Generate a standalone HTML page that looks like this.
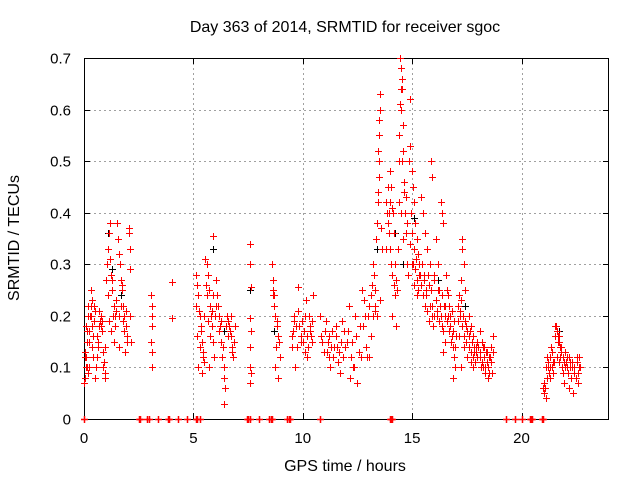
<!DOCTYPE html>
<html><head><meta charset="utf-8"><style>
body{margin:0;background:#fff;}
svg{display:block;font-family:"Liberation Sans",sans-serif;}
</style></head><body>
<svg id="chart" width="640" height="480">
<text x="345" y="32" font-size="16" text-anchor="middle">Day 363 of 2014, SRMTID for receiver sgoc</text>
<text x="345" y="471" font-size="16" text-anchor="middle">GPS time / hours</text>
<text transform="translate(19,238) rotate(-90)" font-size="16" text-anchor="middle">SRMTID / TECUs</text>
<g id="grid"></g>
<g id="ticks"></g>
<rect x="84.5" y="58.5" width="524" height="361" fill="none" stroke="#000" stroke-width="1"/>
<g id="black"></g>
<g id="red"></g>
</svg>
<script>
const xTicks=[0,5,10,15,20];
const yTicks=[0,0.1,0.2,0.3,0.4,0.5,0.6,0.7];
const yTickLabels=["0","0.1","0.2","0.3","0.4","0.5","0.6","0.7"];
const redT=[0.02,0.05,0.08,0.1,0.12,0.15,0.17,0.19,0.06,0.13,
0.22,0.25,0.28,0.3,0.33,0.36,0.4,0.43,0.46,0.48,0.35,
0.52,0.55,0.6,0.63,0.66,0.7,0.73,0.76,0.8,0.84,0.88,0.92,0.95,0.98,
1.02,1.05,1.1,1.15,1.2,1.25,1.3,1.35,1.4,1.45,1.12,1.22,1.38,
1.52,1.55,1.6,1.65,1.7,1.75,1.8,1.85,1.9,1.95,1.62,1.88,
2.05,2.07,2.08,2.1,2.12,2.15,
3.08,3.1,3.1,3.12,3.08,3.1,3.12,
4.0,4.0,
5.1,5.15,5.2,5.25,5.3,5.35,5.4,5.45,5.5,5.22,5.38,
5.55,5.6,5.65,5.7,5.75,5.8,5.85,5.9,5.95,5.72,5.9,
6.02,6.08,6.12,6.18,6.22,6.28,6.32,6.38,6.42,6.46,6.4,
6.55,6.6,6.65,6.7,6.75,6.8,6.85,
7.58,7.6,7.62,7.6,7.62,7.58,7.6,7.62,7.6,
8.6,8.62,8.65,8.7,8.75,8.8,8.85,8.9,8.95,8.72,8.88,
9.5,9.55,9.6,9.7,9.8,9.9,10.0,10.1,10.2,10.3,10.4,10.45,9.65,10.15,10.35,
10.8,10.9,11.0,11.1,11.2,11.3,11.4,11.5,11.6,11.7,11.8,11.9,11.25,11.55,
12.0,12.1,12.2,12.3,12.4,12.5,12.6,12.7,12.8,12.9,12.15,12.45,12.65,12.85,
13.0,13.05,13.1,13.15,13.2,13.25,13.3,13.35,13.4,13.42,13.45,13.48,13.5,13.45,13.5,13.48,13.52,13.55,
13.8,13.85,13.9,13.95,14.0,14.05,14.1,14.15,14.2,14.1,14.25,13.9,14.0,
14.45,14.5,14.55,14.5,14.45,14.6,14.4,14.55,14.65,14.7,14.5,14.75,14.6,14.35,
14.9,14.92,14.85,15.0,15.05,15.1,14.95,15.15,15.2,15.25,15.0,15.3,15.1,15.2,
15.85,15.9,15.4,15.5,15.6,15.7,15.45,15.55,15.75,15.65,15.8,15.9,15.95,
16.3,16.35,16.4,16.1,16.2,16.0,16.25,16.45,16.15,16.35,16.5,16.4,
16.55,16.6,16.7,16.65,16.75,16.8,16.85,16.9,16.95,16.85,
17.3,17.3,17.35,17.25,17.4,17.1,17.2,17.45,17.15,17.35,17.5,17.25,
17.6,17.7,17.65,17.8,17.75,17.9,17.85,17.95,17.7,17.8,
18.1,18.2,18.3,18.4,18.5,18.6,18.25,18.35,18.45,18.7,18.55,18.15,18.65,
21.0,21.05,21.1,21.15,21.2,21.3,21.35,21.4,21.45,21.25,
21.55,21.6,21.65,21.7,21.75,21.8,21.6,21.7,21.85,21.9,21.95,
22.0,22.1,22.2,22.3,22.4,22.5,22.6,22.15,22.35,22.55,22.65];
const redV=[0.07,0.08,0.1,0.12,0.15,0.17,0.2,0.22,0.13,0.1,
0.1,0.15,0.2,0.22,0.25,0.18,0.12,0.16,0.19,0.21,0.23,
0.08,0.1,0.12,0.14,0.15,0.18,0.19,0.2,0.19,0.17,0.13,0.11,0.09,0.08,
0.27,0.3,0.33,0.36,0.38,0.28,0.25,0.22,0.2,0.21,0.19,0.17,0.15,
0.38,0.35,0.32,0.3,0.27,0.25,0.22,0.2,0.18,0.16,0.14,0.13,
0.37,0.36,0.33,0.29,0.2,0.15,
0.24,0.22,0.2,0.18,0.15,0.13,0.1,
0.265,0.195,
0.28,0.26,0.24,0.21,0.2,0.17,0.15,0.13,0.11,0.1,0.09,
0.31,0.3,0.28,0.25,0.22,0.2,0.18,0.15,0.12,0.1,0.355,
0.27,0.24,0.22,0.2,0.18,0.15,0.12,0.1,0.08,0.06,0.03,
0.2,0.19,0.18,0.16,0.14,0.12,0.15,
0.34,0.3,0.255,0.195,0.17,0.14,0.1,0.09,0.07,
0.3,0.27,0.25,0.24,0.2,0.19,0.16,0.15,0.12,0.1,0.08,
0.14,0.17,0.2,0.18,0.255,0.16,0.15,0.13,0.12,0.2,0.19,0.24,0.1,0.23,0.17,
0.2,0.15,0.17,0.13,0.16,0.14,0.12,0.18,0.11,0.09,0.19,0.17,0.1,0.14,
0.15,0.22,0.12,0.1,0.2,0.07,0.18,0.25,0.23,0.14,0.08,0.16,0.12,0.2,
0.2,0.22,0.24,0.26,0.3,0.28,0.21,0.35,0.38,0.42,0.44,0.47,0.5,0.52,0.55,0.58,0.6,0.63,
0.42,0.4,0.38,0.36,0.33,0.3,0.28,0.26,0.24,0.2,0.18,0.45,0.48,
0.7,0.68,0.66,0.64,0.61,0.57,0.55,0.5,0.46,0.43,0.4,0.38,0.35,0.33,
0.62,0.53,0.5,0.48,0.45,0.42,0.4,0.38,0.35,0.32,0.3,0.28,0.26,0.24,
0.5,0.47,0.43,0.4,0.36,0.33,0.3,0.28,0.26,0.24,0.22,0.2,0.18,
0.42,0.4,0.38,0.35,0.3,0.28,0.25,0.22,0.2,0.18,0.15,0.13,
0.28,0.25,0.22,0.2,0.18,0.16,0.14,0.12,0.1,0.08,
0.35,0.33,0.3,0.27,0.25,0.22,0.2,0.18,0.16,0.14,0.12,0.1,
0.2,0.18,0.17,0.16,0.15,0.14,0.13,0.12,0.11,0.1,
0.17,0.15,0.14,0.13,0.12,0.11,0.1,0.09,0.08,0.16,0.12,0.1,0.09,
0.06,0.05,0.04,0.08,0.1,0.12,0.14,0.13,0.11,0.09,
0.18,0.17,0.16,0.15,0.14,0.13,0.12,0.11,0.1,0.09,0.07,
0.13,0.12,0.11,0.1,0.09,0.08,0.07,0.06,0.05,0.12,0.1];
const moreT=[0.04,0.11,0.18,0.24,0.31,0.38,0.45,0.58,0.68,0.78,0.86,0.94,1.08,1.18,1.28,1.33,1.42,1.48,1.58,1.68,1.72,1.78,1.83,1.92,1.98,
5.12,5.18,5.28,5.33,5.42,5.48,5.58,5.62,5.68,5.78,5.83,5.88,5.98,6.05,6.15,6.25,6.35,6.48,6.58,6.68,6.72,6.78,6.88,
8.62,8.68,8.78,8.82,9.52,9.58,9.62,9.72,9.78,9.85,9.92,9.95,10.05,10.12,10.18,10.25,10.32,10.38,10.42,
10.85,10.95,11.05,11.15,11.22,11.35,11.45,11.52,11.65,11.75,11.85,11.95,12.05,12.25,12.35,12.55,12.75,12.95,
13.05,13.12,13.22,13.28,13.32,13.38,13.52,13.58,13.62,
13.82,13.88,13.92,13.98,14.02,14.08,14.12,14.18,14.22,14.28,14.32,14.38,14.42,14.48,14.52,14.58,14.62,14.68,14.72,14.78,14.82,14.88,14.98,15.02,15.08,15.12,15.18,15.22,15.28,
15.32,15.38,15.42,15.48,15.52,15.58,15.62,15.68,15.72,15.78,15.82,15.88,15.92,15.98,16.02,16.08,16.12,16.18,16.22,16.28,16.32,16.38,16.42,16.48,
16.52,16.58,16.62,16.68,16.72,16.78,16.82,16.88,16.92,16.98,17.02,17.08,17.12,17.18,17.22,17.28,17.32,17.38,17.42,17.48,17.52,17.58,17.62,17.68,17.72,17.78,17.82,17.88,17.92,17.98,
18.02,18.08,18.12,18.18,18.22,18.28,18.32,18.38,18.42,18.48,18.52,18.58,18.62,18.68,
21.02,21.08,21.12,21.18,21.22,21.28,21.32,21.38,21.42,21.48,21.52,21.58,21.62,21.68,21.72,21.78,21.82,21.88,21.92,21.98,
22.02,22.08,22.12,22.18,22.22,22.28,22.32,22.38,22.42,22.48,22.52,22.58,22.62,22.68];
const moreV=[0.12,0.18,0.09,0.17,0.2,0.14,0.22,0.16,0.21,0.18,0.1,0.14,0.24,0.31,0.27,0.2,0.18,0.23,0.2,0.22,0.26,0.19,0.17,0.21,0.15,
0.22,0.16,0.14,0.18,0.12,0.2,0.26,0.24,0.19,0.16,0.21,0.24,0.2,0.22,0.17,0.19,0.14,0.18,0.16,0.17,0.2,0.13,0.18,
0.24,0.22,0.14,0.18,0.16,0.19,0.2,0.14,0.21,0.18,0.15,0.19,0.17,0.2,0.16,0.14,0.18,0.16,0.15,
0.16,0.13,0.19,0.15,0.12,0.17,0.14,0.16,0.13,0.15,0.12,0.14,0.17,0.15,0.1,0.13,0.18,0.12,
0.12,0.16,0.2,0.22,0.25,0.2,0.23,0.37,0.33,
0.33,0.38,0.4,0.42,0.45,0.41,0.4,0.36,0.3,0.27,0.25,0.42,0.5,0.6,0.64,0.52,0.44,0.4,0.36,0.3,0.28,0.34,0.36,0.3,0.33,0.29,0.31,0.27,0.25,
0.3,0.28,0.26,0.24,0.27,0.22,0.25,0.21,0.28,0.19,0.3,0.25,0.22,0.2,0.27,0.23,0.21,0.25,0.19,0.22,0.2,0.24,0.17,0.2,
0.22,0.19,0.24,0.17,0.2,0.15,0.21,0.17,0.19,0.14,0.16,0.19,0.24,0.21,0.23,0.18,0.2,0.16,0.19,0.15,0.17,0.14,0.16,0.13,0.15,0.12,0.14,0.11,0.13,0.15,
0.14,0.12,0.13,0.11,0.14,0.12,0.1,0.13,0.11,0.1,0.09,0.12,0.14,0.13,
0.07,0.06,0.1,0.12,0.11,0.1,0.08,0.1,0.09,0.11,0.16,0.18,0.17,0.15,0.16,0.12,0.14,0.12,0.11,0.1,
0.11,0.1,0.09,0.12,0.1,0.08,0.11,0.09,0.1,0.08,0.11,0.09,0.12,0.1];
const zeroT=[0,2.5,2.55,2.9,2.95,3.4,3.85,3.9,4.3,4.7,5.1,5.15,5.3,7.45,7.5,7.6,8.0,8.45,8.55,8.6,9.3,9.35,9.4,10.8,14.0,14.05,14.1,19.3,19.7,20.0,20.4,20.45,20.5,20.95,21.0];
const blackT=[1.1,1.3,1.7,5.9,6.4,7.6,8.7,10.2,12.3,13.4,14.2,14.6,15.1,16.2,17.4,21.7];
const blackV=[0.36,0.29,0.24,0.33,0.17,0.25,0.17,0.16,0.1,0.33,0.36,0.3,0.39,0.27,0.22,0.17];

const NS="http://www.w3.org/2000/svg";
const X0=84,X1=609,Y0=419,Y1=58,XMAX=24,YMAX=0.7;
function sx(t){return X0+(X1-X0)*t/XMAX;}
function sy(v){return Y0-(Y0-Y1)*v/YMAX;}
function mk(tag,attrs,parent){const e=document.createElementNS(NS,tag);for(const k in attrs)e.setAttribute(k,attrs[k]);parent.appendChild(e);return e;}
const grid=document.getElementById('grid'),ticks=document.getElementById('ticks');
xTicks.forEach(t=>{
  const x=Math.round(sx(t))+0.5;
  if(t>0){const g=mk('line',{x1:x,x2:x,y1:Y1,y2:Y0,stroke:'#a0a0a0','stroke-dasharray':'2,3'},grid);
  
  }
  mk('line',{x1:x,x2:x,y1:Y0,y2:Y0-6,stroke:'#000'},ticks);
  mk('line',{x1:x,x2:x,y1:Y1,y2:Y1+6,stroke:'#000'},ticks);
  const l=mk('text',{x:sx(t),y:Y0+24,'font-size':15,'text-anchor':'middle'},ticks);
  l.textContent=String(t);
  
  
});
yTicks.forEach((v,i)=>{
  const y=Math.round(sy(v))+0.5;
  if(v>0&&v<YMAX){const g=mk('line',{x1:X0,x2:X1,y1:y,y2:y,stroke:'#a0a0a0','stroke-dasharray':'2,3'},grid);
  
  }
  mk('line',{x1:X0,x2:X0+6,y1:y,y2:y,stroke:'#000'},ticks);
  mk('line',{x1:X1-6,x2:X1,y1:y,y2:y,stroke:'#000'},ticks);
  const l=mk('text',{x:X0-13,y:y+5,'font-size':15,'text-anchor':'end'},ticks);
  l.textContent=yTickLabels[i];
  
  
});
function plus(g,t,v,col,w){
  const x=Math.round(sx(t))+0.5,y=Math.round(sy(v))+0.5;
  const p=mk('path',{d:`M${x-3.5} ${y}H${x+3.5}M${x} ${y-3.5}V${y+3.5}`,stroke:col,'stroke-width':w||1,fill:'none'},g);
  
  
}
const gb=document.getElementById('black'),gr=document.getElementById('red');
for(let i=0;i<Math.min(blackT.length,blackV.length);i++)plus(gb,blackT[i],blackV[i],'#000');
for(let i=0;i<Math.min(moreT.length,moreV.length);i++)plus(gr,moreT[i],moreV[i],'#f00');
for(let i=0;i<Math.min(redT.length,redV.length);i++)plus(gr,redT[i],redV[i],'#f00');
zeroT.forEach(t=>plus(gr,t,0,'#f00',1.5));
</script>
</body></html>
